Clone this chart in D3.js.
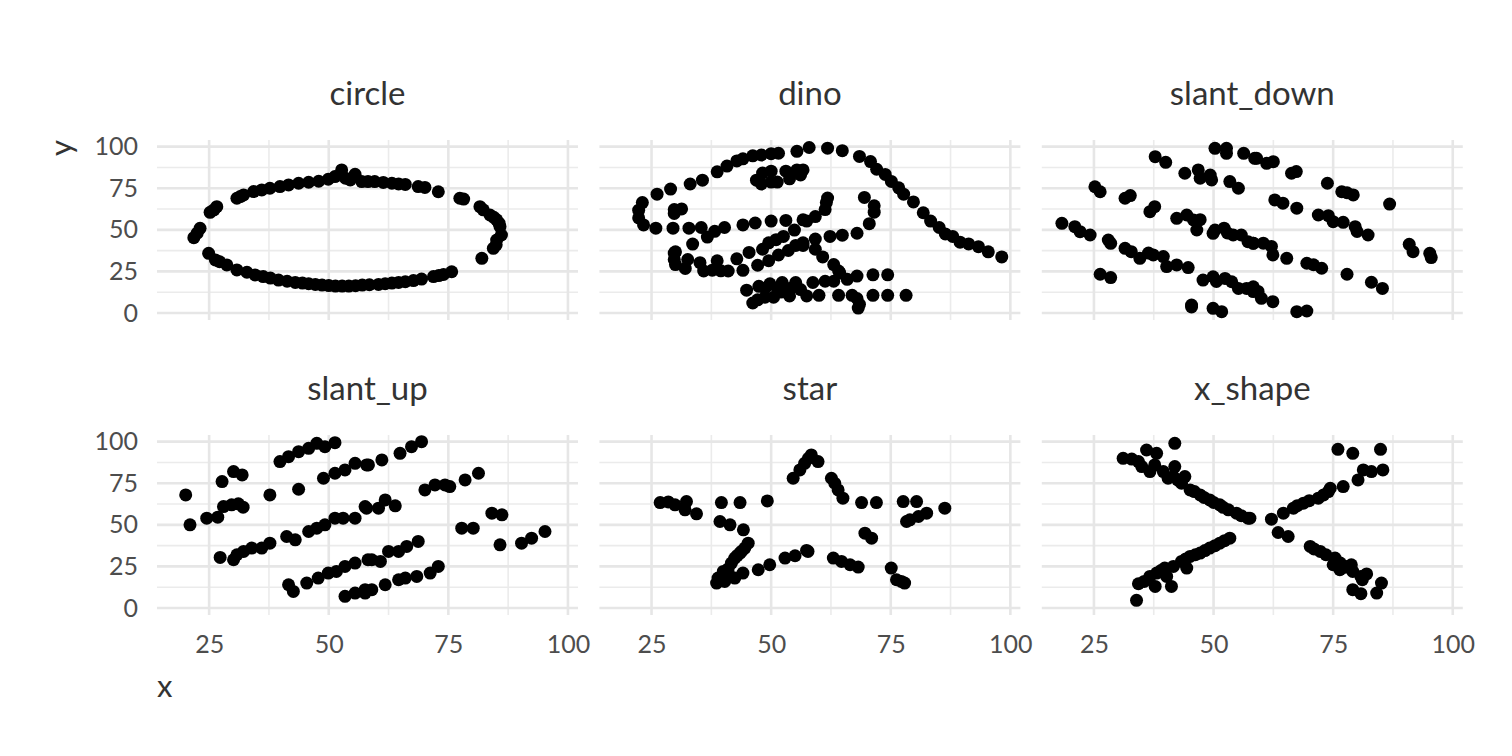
<!DOCTYPE html>
<html><head><meta charset="utf-8">
<script src="https://cdn.jsdelivr.net/npm/d3@7"></script>
<style>body{margin:0;background:#fff}</style>
</head><body><svg id="c" width="1512" height="756"></svg>
<script>
const categories = ["circle","dino","slant_down","slant_up","star","x_shape"];

const circle_x = [21.8,22.5,23.1,25.2,26.0,26.6,30.8,31.5,32.2,34.3,36.0,37.7,39.8,41.6,43.7,45.8,47.9,49.9,51.3,52.7,53.5,55.5,54.5,56.9,58.2,59.6,61.4,63.2,64.6,66.0,68.7,70.1,72.9,77.4,78.2,81.6,82.3,83.7,84.5,85.1,85.6,85.8,86.1,85.0,85.1,84.4,82.0,
  24.9,26.3,27.2,28.7,30.8,32.9,34.6,36.3,37.8,39.5,41.3,43.0,44.5,45.8,47.2,48.6,50.0,51.4,52.8,54.2,55.6,57.0,58.5,60.4,61.8,63.2,64.6,66.0,67.7,69.4,71.9,73.0,74.0,75.7];
const circle_y = [45.3,48.0,50.9,60.5,62.0,63.9,69.0,70.0,71.0,73.0,74.0,75.0,76.0,77.0,78.0,78.6,79.2,80.4,82.0,86.0,81.0,83.4,80.0,79.0,79.0,79.0,78.5,78.0,77.6,77.3,76.0,75.5,72.9,69.0,68.5,63.9,62.0,58.9,57.5,56.0,54.0,51.9,46.9,41.0,43.9,38.9,32.9,
  35.9,31.9,30.8,28.9,25.9,24.5,22.9,21.9,21.0,19.8,19.1,18.4,18.0,17.6,17.2,16.8,16.5,16.2,16.2,16.2,16.4,16.8,17.0,17.2,17.6,18.0,18.4,18.8,19.5,20.4,21.9,22.5,23.2,24.8];

const dino_x = [55.3846,51.5385,46.1538,42.8205,40.7692,38.7179,35.641,33.0769,28.9744,26.1538,23.0769,22.3077,22.3077,23.3333,25.8974,29.4872,32.8205,35.3846,40.2564,44.1026,46.6667,50.0,53.0769,56.6667,59.2308,61.2821,61.5385,61.7949,57.4359,54.8718,52.5641,48.2051,49.4872,51.0256,45.3846,42.8205,38.7179,35.1282,32.5641,30.0,33.5897,36.6667,38.2051,29.7436,29.7436,30.0,32.0513,35.8974,41.0256,44.1026,47.1795,49.4872,51.5385,53.5897,55.1282,56.6667,59.2308,62.3077,64.8718,67.9487,70.5128,71.5385,71.5385,69.4872,46.9231,48.2051,50.0,53.0769,55.3846,56.6667,56.1538,53.8462,51.2821,50.0,47.9487,29.7436,29.7436,31.2821,57.9487,61.7949,64.8718,68.4615,70.7692,72.0513,73.8462,75.1282,76.6667,77.6923,79.7436,81.7949,83.3333,85.1282,86.4103,87.9487,89.4872,93.3333,95.3846,98.2051,56.6667,59.2308,60.7692,63.0769,64.1026,64.359,74.359,71.2821,67.9487,65.8974,63.0769,61.2821,58.7179,55.1282,52.3077,49.7436,47.4359,44.8718,48.7179,51.2821,54.1026,56.1538,52.0513,48.7179,47.1795,46.1538,50.5128,53.8462,57.4359,60.0,64.1026,66.9231,71.2821,74.359,78.2051,67.9487,68.4615,68.2051,37.6923,39.4872,91.2821,50.0,47.9487,44.1026];
const dino_y = [97.1795,96.0256,94.4872,91.4103,88.3333,84.8718,79.8718,77.5641,74.4872,71.4103,66.4103,61.7949,57.1795,52.9487,51.0256,51.0256,51.0256,51.4103,51.4103,52.9487,54.1026,55.2564,55.641,56.0256,57.9487,62.1795,66.4103,69.1026,55.2564,49.8718,46.0256,38.3333,42.1795,44.1026,36.4103,32.5641,31.4103,30.2564,32.1795,36.7949,41.4103,45.641,49.1026,36.0256,32.1795,29.1026,26.7949,25.2564,25.2564,25.641,28.718,31.4103,34.8718,37.5641,40.641,42.1795,44.4872,46.0256,46.7949,47.9487,53.718,60.641,64.4872,69.4872,79.8718,84.1026,85.2564,85.2564,86.0256,86.0256,82.9487,80.641,78.718,78.718,77.5641,59.8718,62.1795,62.5641,99.4872,99.1026,97.5641,94.1026,91.0256,86.4103,83.3333,79.1026,75.2564,71.4103,66.7949,60.2564,55.2564,51.4103,47.5641,46.0256,42.5641,39.8718,36.7949,33.718,40.641,38.3333,33.718,29.1026,25.2564,24.1026,22.9487,22.9487,22.1795,20.2564,19.1026,19.1026,18.3333,18.3333,18.3333,17.5641,16.0256,13.7179,14.8718,14.8718,14.8718,14.1026,12.5641,9.4872,7.9487,6.0256,9.4872,10.2564,10.2564,10.641,10.641,10.641,10.641,10.641,10.641,8.718,5.2564,2.9487,25.7692,25.3846,41.5385,95.7692,95.0,92.6923];

const slant_down_x = [18.3,21.0,22.1,24.2,25.2,26.3,26.3,28.5,28.0,28.5,31.5,32.8,34.6,36.4,37.4,39.5,40.2,42.3,44.7,31.5,32.6,36.7,37.7,37.8,40.0,42.3,44.4,45.8,47.2,46.5,44.0,46.8,47.2,49.3,49.6,50.3,52.7,52.7,56.3,58.6,53.4,55.2,50.3,49.9,52.2,52.9,54.1,55.8,57.2,58.3,45.4,45.4,49.9,51.7,47.8,49.9,50.6,52.4,53.8,55.2,56.9,58.3,
  59.0,61.1,62.5,66.3,67.3,73.8,76.8,77.9,79.2,86.8,62.8,64.5,67.4,71.9,74.0,75.0,77.1,79.6,80.0,82.3,90.9,91.7,95.2,95.5,58.3,60.4,62.1,62.4,65.3,69.5,70.9,72.6,77.9,83.0,85.3,58.3,59.3,60.0,62.4,67.4,69.5];
const slant_down_y = [53.9,51.9,48.9,46.9,75.9,72.9,23.3,21.3,43.9,41.9,38.9,36.9,32.9,36.0,34.9,33.9,27.9,28.9,27.3,69.0,70.6,60.9,63.9,94.0,90.6,56.9,58.9,55.9,56.1,49.9,84.0,86.0,81.0,82.9,80.0,99.0,99.0,96.0,96.0,93.0,79.0,75.0,49.9,47.9,51.0,48.1,46.9,46.9,42.9,42.0,4.8,3.6,2.8,0.8,19.8,21.8,19.0,20.8,18.8,14.8,14.8,12.9,
  93.0,90.0,91.0,84.0,85.0,78.0,72.9,72.3,71.0,65.5,68.0,66.0,63.0,58.9,58.5,54.9,54.5,51.9,49.0,46.9,41.3,36.9,35.9,33.3,41.9,42.0,40.0,34.9,32.9,29.9,29.0,26.9,23.3,18.5,14.8,15.8,13.0,8.8,6.8,0.8,1.2];

const slant_up_x = [20.1,21.0,24.5,26.8,28.0,29.7,31.1,32.1,27.7,30.1,31.9,27.3,30.1,30.8,32.2,33.9,36.0,37.7,37.7,39.8,41.6,43.7,45.8,47.5,49.2,51.3,43.7,41.2,43.0,45.8,47.5,49.2,51.3,53.0,55.5,57.9,48.9,51.3,53.4,55.5,57.9,41.6,42.6,45.4,47.8,49.9,51.6,53.4,55.5,53.4,55.5,57.6,58.2,
  58.3,61.1,64.9,67.3,69.4,70.1,72.2,74.3,75.3,78.5,81.3,57.6,60.4,61.8,63.9,77.8,80.2,84.1,86.2,85.8,90.3,92.4,95.2,59.0,60.8,62.5,64.6,66.3,68.7,57.6,59.0,61.8,64.6,66.0,68.4,71.2,72.9];
const slant_up_y = [68.0,50.0,54.0,54.6,61.0,62.0,62.6,60.6,76.0,82.0,80.0,30.4,29.0,32.0,34.0,36.0,36.0,39.0,68.0,88.0,91.0,94.0,96.0,99.0,97.0,99.4,71.4,43.0,41.0,46.0,48.0,50.0,54.0,54.0,54.0,60.0,78.0,81.0,83.0,87.0,86.0,14.0,10.0,15.0,18.0,21.0,22.0,25.0,27.0,7.0,9.0,11.0,29.0,
  86.0,89.0,93.0,97.0,100.0,71.0,74.0,74.0,73.0,77.0,81.0,61.0,60.0,65.0,61.4,48.0,48.0,57.0,56.0,38.0,39.0,42.0,46.0,29.0,28.0,34.0,34.0,37.0,40.0,9.0,11.0,14.0,17.0,18.0,19.0,21.0,25.0];

const star_x = [26.8,28.5,29.9,32.3,32.0,34.4,39.6,43.5,49.2,39.3,41.4,44.2,45.2,44.5,43.5,42.4,41.7,41.0,40.0,38.9,38.6,40.3,42.4,44.1,47.3,49.7,52.9,55.0,57.4,54.6,56.0,57.0,58.4,59.8,62.6,64.0,65.0,68.9,72.0,77.6,80.4,86.3,82.5,80.8,78.3,69.6,71.0,57.7,63.0,64.7,66.5,68.2,75.1,76.2,77.9,77.2,43.8,42.9,41.2,39.5,57.8,63.3,79.0];
const star_y = [63.4,63.8,62.0,64.0,59.0,56.6,63.4,63.4,64.4,52.0,50.0,47.0,39.0,36.0,33.0,30.0,27.0,23.5,22.0,18.0,15.0,16.0,18.0,21.0,23.0,26.0,30.0,31.4,34.6,78.0,83.0,87.0,92.0,88.0,78.0,71.0,66.0,63.4,63.4,64.0,64.0,60.0,57.0,55.0,52.0,45.0,42.0,34.0,30.0,28.0,26.0,24.6,24.0,17.0,15.0,16.0,34.0,31.5,20.0,17.0,90.0,75.0,53.0];

const x_shape_x = [31.1,32.9,34.3,36.0,38.1,41.9,35.0,36.7,37.7,39.5,40.5,41.9,41.6,44.0,43.3,45.1,47.2,49.2,51.3,53.1,54.8,57.2,53.4,51.3,49.2,47.2,45.1,43.3,41.6,39.8,38.1,36.7,34.3,37.8,41.2,33.9,44.4,40.2,
  57.6,62.1,64.6,66.7,68.8,71.9,74.0,74.4,77.1,80.2,81.3,83.0,85.4,76.0,79.1,84.9,63.5,65.6,70.2,72.3,75.4,75.0,76.4,78.8,79.1,80.8,81.1,85.1,84.1,79.1,80.8,
  42.5,46.0,48.0,50.0,52.0,55.8,52.3,50.3,48.2,46.2,44.2,39.0,35.5,73.0,70.0,67.5,71.0,73.5,76.5,77.5,82.0,78.0];
const x_shape_y = [90.0,89.5,88.0,95.0,93.0,99.0,85.0,82.0,86.0,82.0,78.0,85.0,79.0,79.0,75.0,71.0,68.0,65.0,62.0,59.0,57.0,54.0,42.0,39.0,36.0,33.0,31.0,28.0,25.0,24.0,21.0,19.0,14.6,13.0,13.0,4.6,24.0,19.0,
  54.0,53.4,57.0,60.0,63.0,66.0,70.0,72.0,73.0,77.0,83.0,82.0,83.0,95.4,93.0,95.4,45.4,43.0,37.0,34.0,30.0,26.0,23.0,26.0,22.0,19.0,17.0,15.0,9.0,11.0,8.6,
  77.0,70.0,66.5,63.5,60.5,55.5,40.5,37.5,34.5,32.0,29.5,22.5,16.0,68.0,64.5,61.5,35.5,32.0,27.0,24.5,20.5,25.0];

const xTicks = [25, 50, 75, 100];
const xTickLabels = ["25", "50", "75", "100"];
const yTicks = [0, 25, 50, 75, 100];
const yTickLabels = ["0", "25", "50", "75", "100"];
const xMinor = [37.5, 62.5, 87.5];
const yMinor = [12.5, 37.5, 62.5, 87.5];

const seriesX = [circle_x, dino_x, slant_down_x, slant_up_x, star_x, x_shape_x];
const seriesY = [circle_y, dino_y, slant_down_y, slant_up_y, star_y, x_shape_y];

// layout
const panelW = 421, panelH = 180, left0 = 157, colStep = 442.4, top0 = 140, rowStep = 295;
const FONT = "Lato, 'Noto Sans', sans-serif";
const x = d3.scaleLinear().domain([14.1, 102.1]).range([0, panelW]);
const y = d3.scaleLinear().domain([-4.2, 104]).range([panelH, 0]);

const svg = d3.select("#c");
svg.append("rect").attr("width",1512).attr("height",756).attr("fill","#fff");

categories.forEach((cat, i) => {
  const col = i % 3, row = Math.floor(i / 3);
  const g = svg.append("g").attr("transform", `translate(${left0 + col*colStep},${top0 + row*rowStep})`);
  // minor grid
  g.selectAll(".vmin").data(xMinor).join("line")
    .attr("x1", d => x(d)).attr("x2", d => x(d)).attr("y1", 0).attr("y2", panelH)
    .attr("stroke", "#ebebeb").attr("stroke-width", 1.6);
  g.selectAll(".hmin").data(yMinor).join("line")
    .attr("y1", d => y(d)).attr("y2", d => y(d)).attr("x1", 0).attr("x2", panelW)
    .attr("stroke", "#ebebeb").attr("stroke-width", 1.6);
  // major grid
  g.selectAll(".vmaj").data(xTicks).join("line")
    .attr("x1", d => x(d)).attr("x2", d => x(d)).attr("y1", 0).attr("y2", panelH)
    .attr("stroke", "#e6e6e6").attr("stroke-width", 2.6);
  g.selectAll(".hmaj").data(yTicks).join("line")
    .attr("y1", d => y(d)).attr("y2", d => y(d)).attr("x1", 0).attr("x2", panelW)
    .attr("stroke", "#e6e6e6").attr("stroke-width", 2.6);
  // points
  const xs = seriesX[i], ys = seriesY[i];
  g.selectAll("circle.pt").data(xs.map((v, k) => [v, ys[k]])).join("circle")
    .attr("class","pt").attr("cx", d => x(d[0])).attr("cy", d => y(d[1])).attr("r", 6.5).attr("fill", "#000");
  // strip title
  g.append("text").attr("x", panelW/2).attr("y", -35).attr("text-anchor","middle")
    .attr("font-family", FONT).attr("font-size", 33).attr("fill", "#333").text(cat);
  // axes
  if (col === 0) {
    const ax = g.append("g").call(d3.axisLeft(y).tickValues(yTicks).tickFormat((d,k)=>yTickLabels[k]).tickSize(0).tickPadding(19));
    ax.select(".domain").remove();
    ax.selectAll("text").attr("font-family", FONT).attr("font-size", 25).attr("fill", "#4d4d4d");
  }
  if (row === 1) {
    const ax = g.append("g").attr("transform", `translate(0,${panelH})`)
      .call(d3.axisBottom(x).tickValues(xTicks).tickFormat((d,k)=>xTickLabels[k]).tickSize(0).tickPadding(20));
    ax.select(".domain").remove();
    ax.selectAll("text").attr("font-family", FONT).attr("font-size", 25).attr("fill", "#4d4d4d");
  }
});

// axis titles
svg.append("text").attr("transform", `translate(72,${top0}) rotate(-90)`).attr("text-anchor","end")
  .attr("font-family", FONT).attr("font-size", 31).attr("fill", "#333").text("y");
svg.append("text").attr("x", left0).attr("y", 697).attr("text-anchor","start")
  .attr("font-family", FONT).attr("font-size", 31).attr("fill", "#333").text("x");
</script>
</body></html>
